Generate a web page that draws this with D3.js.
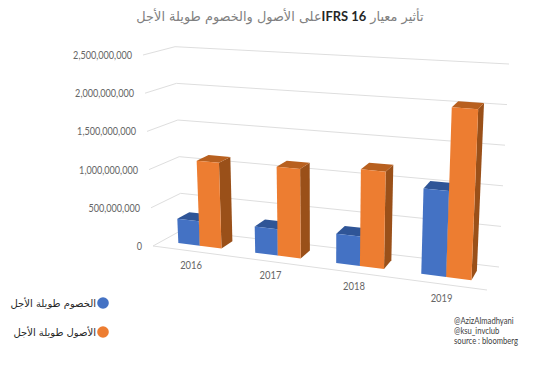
<!DOCTYPE html>
<html><head><meta charset="utf-8">
<script src="https://cdn.jsdelivr.net/npm/d3@7"></script>
<style>html,body{margin:0;padding:0;background:#fff}svg{display:block}</style>
</head><body><svg id="c" width="554" height="370"></svg>
<script>
const categories = ["2016","2017","2018","2019"];
const seriesNames = ["الخصوم طويلة الأجل","الأصول طويلة الأجل"];
const liabilities = [320000000,335000000,367000000,1040000000];
const assets = [1113000000,1132000000,1200000000,2050000000];
const tickValues = [0,500000000,1000000000,1500000000,2000000000,2500000000];
const credits = ["@AzizAlmadhyani","@ksu_invclub","source : bloomberg"];

const svg = d3.select("#c");
const font = "Lato, sans-serif";
const arFont = "'DejaVu Sans', sans-serif";

const C = {
  f0l:[153,246], f0r:[487,290], b0l:[182,230], b0r:[499,267],
  f1l:[143,55],  f1r:[496,77],  b1l:[175,46.7], b1r:[509,64]
};
const L=(a,b,t)=>[a[0]+(b[0]-a[0])*t,a[1]+(b[1]-a[1])*t];
const vScale = d3.scaleLinear().domain([0,2500000000]).range([0,1]);
const tScale = d3.scaleBand().domain(categories).range([0,1]);
const W = 0.071;
const sScale = d3.scaleBand().domain([0,1]).range([-W,W]);
const warp = t => 0.9*t + 0.1*t*t;
function P(t,d,val){
  const u=warp(t), v=vScale(val);
  const f0=L(C.f0l,C.f0r,u), b0=L(C.b0l,C.b0r,u), f1=L(C.f1l,C.f1r,u), b1=L(C.b1l,C.b1r,u);
  return L(L(f0,b0,d),L(f1,b1,d),v);
}
function squeeze(sel,k){
  sel.each(function(){
    this.setAttribute("textLength",this.getComputedTextLength()*k);
    this.setAttribute("lengthAdjust","spacingAndGlyphs");
  });
}
const line=d3.line();
const grid=svg.append("g").attr("fill","none").attr("stroke","#dedede").attr("stroke-width",1);
tickValues.forEach(val=>{
  grid.append("path").attr("d",line([P(0,0,val),P(0,1,val),P(1,1,val)]));
});
grid.append("path").attr("d",line([P(0,0,0),P(1,0,0)]));

svg.append("g").selectAll("text").data(tickValues).join("text")
  .attr("x",d=>P(0,0,d)[0]-11).attr("y",d=>P(0,0,d)[1]).attr("dy","0.35em")
  .attr("text-anchor","end").attr("font-family",font).attr("font-size",11.5).attr("fill","#666")
  .text(d=>d3.format(",")(d)).call(squeeze,0.79);

const colors=[{front:"#4472C4",top:"#2F5597",side:"#2F5597"},{front:"#ED7D31",top:"#B8601F",side:"#9A5019"}];
const D0=0.32,D1=0.74;
const bars=svg.append("g");
categories.forEach((cat,i)=>{
  [liabilities,assets].forEach((arr,s)=>{
    const val=arr[i], c=colors[s];
    const t0=tScale(cat)+tScale.bandwidth()/2+sScale(s), t1=t0+sScale.bandwidth();
    const poly=(pts,fill)=>bars.append("path").attr("d",line(pts)+"Z").attr("fill",fill);
    poly([P(t1,D0,0),P(t1,D1,0),P(t1,D1,val),P(t1,D0,val)],c.side);
    poly([P(t0,D0,val),P(t1,D0,val),P(t1,D1,val),P(t0,D1,val)],c.top);
    poly([P(t0,D0,0),P(t1,D0,0),P(t1,D0,val),P(t0,D0,val)],c.front);
  });
});

svg.append("g").selectAll("text").data(categories).join("text")
  .attr("x",d=>P(tScale(d)+tScale.bandwidth()/2,0,0)[0])
  .attr("y",d=>P(tScale(d)+tScale.bandwidth()/2,0,0)[1]+14).attr("dy","0.35em")
  .attr("text-anchor","middle").attr("font-family",font).attr("font-size",11.5).attr("fill","#666")
  .text(d=>d).call(squeeze,0.82);

const title=svg.append("text").attr("x",280).attr("y",21).attr("text-anchor","middle")
  .attr("direction","rtl").attr("font-family",arFont).attr("font-size",12.9).attr("fill","#808080");
title.append("tspan").text("تأثير معيار ");
title.append("tspan").attr("fill","#262626").attr("font-weight","bold").attr("font-family",font).attr("direction","ltr").text("IFRS 16");
title.append("tspan").text("على الأصول والخصوم طويلة الأجل");

const ly=[303,332];
seriesNames.forEach((n,i)=>{
  svg.append("circle").attr("cx",103).attr("cy",ly[i]).attr("r",5.8).attr("fill",colors[i].front);
  svg.append("text").attr("x",96).attr("y",ly[i]).attr("dy","0.35em").attr("text-anchor","start")
    .attr("direction","rtl").attr("font-family",arFont).attr("font-size",10).attr("fill","#262626").text(n);
});
svg.append("g").selectAll("text").data(credits).join("text")
  .attr("x",454).attr("y",(d,i)=>321+i*10).attr("dy","0.35em").attr("font-family",font)
  .attr("font-size",9).attr("fill","#404040").text(d=>d).call(squeeze,0.85);
</script></body></html>
